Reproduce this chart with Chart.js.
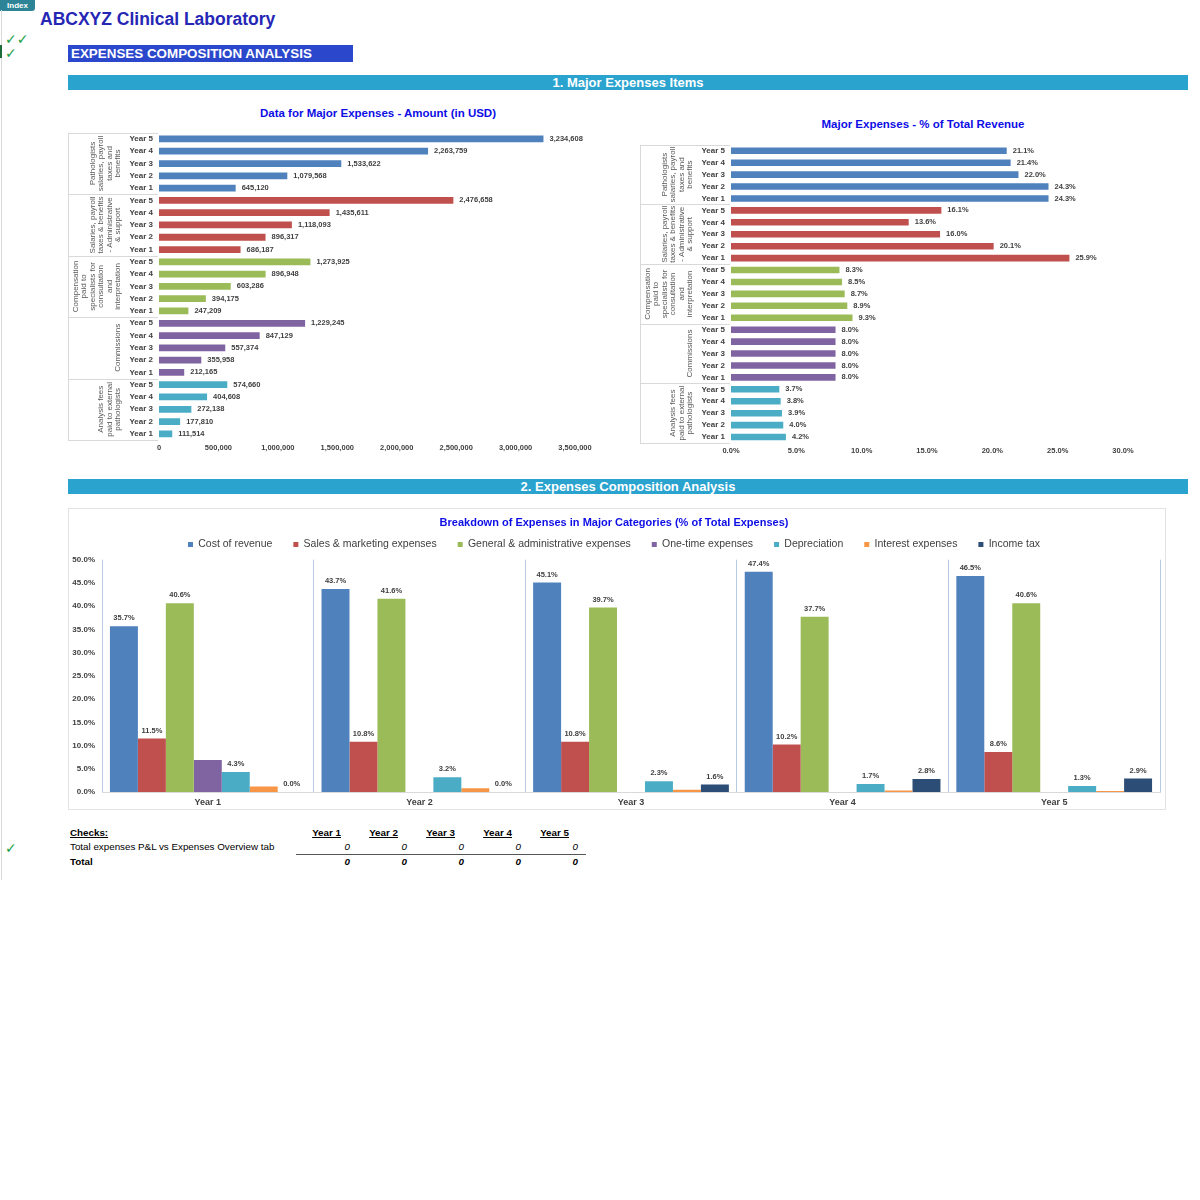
<!DOCTYPE html>
<html lang="en">
<head>
  <meta charset="UTF-8">
  <title>Expenses Composition Analysis</title>
  <style>
    body {
      margin: 0;
      padding: 0;
      background: #ffffff;
      font-family: 'Liberation Sans', Arial, sans-serif;
      width: 1200px;
      height: 1200px;
      position: relative;
      overflow: hidden;
    }
    .abs { position: absolute; }
    .index-tab {
      left: 0; top: 0; width: 35px; height: 11px;
      background: #2d8496; color: #fff;
      font-size: 8px; font-weight: bold; line-height: 11px; text-align: center;
      border-radius: 0 0 3px 0;
    }
    .left-rule { left: 1px; top: 10px; width: 1px; height: 870px; background: #d9d9d9; }
    .left-mark { left: 0; top: 45px; width: 2px; height: 13px; background: #1f6b3a; }
    .company {
      left: 40px; top: 9px; line-height: 20px;
      font-size: 17.5px; font-weight: bold; color: #2626b5;
    }
    .check { color: #22a047; font-family: 'DejaVu Sans', sans-serif; font-size: 14px; line-height: 14px; left: 5px; }
    .banner {
      left: 68px; top: 45px; width: 285px; height: 17px;
      background: #2b47cc; color: #fff; box-sizing: border-box; padding-left: 3px;
      font-size: 13.4px; font-weight: bold; line-height: 17px;
    }
    .section {
      left: 68px; width: 1120px; height: 15px;
      background: #2aa3cf; color: #fff;
      font-size: 13px; font-weight: bold; line-height: 15px; text-align: center;
    }
    .chart-title {
      width: 400px; line-height: 14px; text-align: center;
      color: #0d0de6; font-size: 11.5px; font-weight: bold;
    }
    .frame { left: 68px; top: 508px; width: 1098px; height: 302px; border: 1px solid #e3e3e3; box-sizing: border-box; }
    .cell { font-size: 9.8px; color: #000; line-height: 12px; }
    .num { text-align: right; width: 40px; font-style: italic; }
    .hdr { text-align: right; width: 50px; font-weight: bold; text-decoration: underline; }
  </style>
</head>
<body>
  <div class="abs index-tab">Index</div>
  <div class="abs left-rule"></div>
  <div class="abs left-mark"></div>
  <div class="abs company">ABCXYZ Clinical Laboratory</div>
  <div class="abs check" style="top:32px;">✓✓</div>
  <div class="abs check" style="top:46px;">✓</div>
  <div class="abs banner">EXPENSES COMPOSITION ANALYSIS</div>

  <div class="abs section" style="top:75px;">1. Major Expenses Items</div>
  <div class="abs chart-title" style="left:178px; top:106px;">Data for Major Expenses - Amount (in USD)</div>
  <div class="abs chart-title" style="left:723px; top:117px;">Major Expenses - % of Total Revenue</div>

  <div class="abs" style="left:68px; top:122px; width:532px; height:340px;"><canvas id="amountChart"></canvas></div>
  <div class="abs" style="left:640px; top:134px; width:520px; height:331px;"><canvas id="revenueChart"></canvas></div>

  <div class="abs section" style="top:479px;">2. Expenses Composition Analysis</div>
  <div class="abs frame"></div>
  <div class="abs" style="left:68px; top:508px; width:1098px; height:302px;"><canvas id="compositionChart"></canvas></div>

  <div class="abs cell" style="left:70px; top:827px; font-weight:bold; text-decoration:underline;">Checks:</div>
  <div class="abs check" style="top:841px;">✓</div>
  <div class="abs cell" style="left:70px; top:841px;">Total expenses P&amp;L vs Expenses Overview tab</div>
  <div class="abs cell" style="left:70px; top:856px; font-weight:bold;">Total</div>
  <div class="abs" style="left:296px; top:854px; width:290px; height:1px; background:#555;"></div>
  <div id="checks"></div>

  <script src="https://cdn.jsdelivr.net/npm/chart.js"></script>
  <script>
    // major expense items (rows go Year 5 -> Year 1 inside each item)
    const yearRows = ['Year 5', 'Year 4', 'Year 3', 'Year 2', 'Year 1'];
    const expenseItems = [
      ['Pathologists', 'salaries, payroll', 'taxes and', 'benefits'],
      ['Salaries, payroll', 'taxes & benefits', '- Administrative', '& support'],
      ['Compensation', 'paid to', 'specialists for', 'consultation', 'and', 'interpretation'],
      ['Commissions'],
      ['Analysis fees', 'paid to external', 'pathologists']
    ];
    const itemColors = ['#4F81BD', '#C0504D', '#9BBB59', '#8064A2', '#4BACC6'];

    const amountPathologists = [3234608, 2263759, 1533622, 1079568, 645120];
    const amountAdminSalaries = [2476658, 1435611, 1118093, 896317, 686187];
    const amountSpecialists = [1273925, 896948, 603286, 394175, 247209];
    const amountCommissions = [1229245, 847129, 557374, 355958, 212165];
    const amountAnalysisFees = [574660, 404608, 272138, 177810, 111514];

    const pctPathologists = [21.1, 21.4, 22.0, 24.3, 24.3];
    const pctAdminSalaries = [16.1, 13.6, 16.0, 20.1, 25.9];
    const pctSpecialists = [8.3, 8.5, 8.7, 8.9, 9.3];
    const pctCommissions = [8.0, 8.0, 8.0, 8.0, 8.0];
    const pctAnalysisFees = [3.7, 3.8, 3.9, 4.0, 4.2];

    // composition of total expenses
    const years = ['Year 1', 'Year 2', 'Year 3', 'Year 4', 'Year 5'];
    const costOfRevenue = [35.7, 43.7, 45.1, 47.4, 46.5];
    const salesMarketing = [11.5, 10.8, 10.8, 10.2, 8.6];
    const generalAdmin = [40.6, 41.6, 39.7, 37.7, 40.6];
    const oneTimeExpenses = [6.9, 0, 0, 0, 0];
    const depreciation = [4.3, 3.2, 2.3, 1.7, 1.3];
    const interestExpenses = [1.2, 0.8, 0.5, 0.3, 0.2];
    const incomeTax = [0.0, 0.0, 1.6, 2.8, 2.9];

    const checkValues = [0, 0, 0, 0, 0];
    const checkTotals = [0, 0, 0, 0, 0];

    Chart.defaults.font.family = "'Liberation Sans', Arial, sans-serif";
    Chart.defaults.color = '#404040';

    const fmtAmount = v => v === 0 ? '0' : v.toLocaleString('en-US');
    const fmtPct = v => v.toFixed(1) + '%';

    // draws the value next to / above each bar
    function valueLabels(format, horizontal, skip) {
      return {
        id: 'valueLabels',
        afterDatasetsDraw(chart) {
          const ctx = chart.ctx;
          ctx.save();
          ctx.font = 'bold 7.5px "Liberation Sans", Arial';
          ctx.fillStyle = '#404040';
          chart.data.datasets.forEach((ds, di) => {
            if (skip && skip.includes(di)) return;
            chart.getDatasetMeta(di).data.forEach((bar, i) => {
              const txt = format(ds.data[i]);
              if (horizontal) {
                ctx.textAlign = 'left';
                ctx.textBaseline = 'middle';
                ctx.fillText(txt, bar.x + 6, bar.y);
              } else {
                ctx.textAlign = 'center';
                ctx.textBaseline = 'middle';
                ctx.fillText(txt, bar.x, bar.y - 8);
              }
            });
          });
          ctx.restore();
        }
      };
    }

    // second level of the category axis: item names + separators
    const groupAxis = {
      id: 'groupAxis',
      afterDraw(chart) {
        const {ctx, chartArea} = chart;
        const y = chart.scales.y;
        const half = (y.getPixelForValue(1) - y.getPixelForValue(0)) / 2;
        const n = expenseItems.length;
        ctx.save();
        ctx.strokeStyle = '#d9d9d9';
        ctx.lineWidth = 1;
        const top = y.getPixelForValue(0) - half;
        const bottom = y.getPixelForValue(n * 5 - 1) + half;
        for (let g = 0; g <= n; g++) {
          const py = Math.round(g < n ? y.getPixelForValue(g * 5) - half : bottom) + 0.5;
          ctx.beginPath();
          ctx.moveTo(0, py);
          ctx.lineTo(chartArea.left - 1, py);
          ctx.stroke();
        }
        ctx.beginPath();
        ctx.moveTo(0.5, top);
        ctx.lineTo(0.5, bottom);
        ctx.stroke();

        ctx.fillStyle = '#595959';
        ctx.font = '8px "Liberation Sans", Arial';
        ctx.textAlign = 'center';
        ctx.textBaseline = 'middle';
        expenseItems.forEach((lines, g) => {
          const cy = (y.getPixelForValue(g * 5) + y.getPixelForValue(g * 5 + 4)) / 2;
          lines.forEach((txt, i) => {
            const cx = chartArea.left - 41 - (lines.length - 1 - i) * 8.5;
            ctx.save();
            ctx.translate(cx, cy);
            ctx.rotate(-Math.PI / 2);
            ctx.fillText(txt, 0, 0);
            ctx.restore();
          });
        });
        ctx.restore();
      }
    };

    const rowLabels = expenseItems.flatMap(() => yearRows);
    const rowColors = itemColors.flatMap(c => Array(5).fill(c));

    function itemBarChart(id, values, xMax, xStep, tickFmt, labelFmt, padRight) {
      return new Chart(document.getElementById(id), {
        type: 'bar',
        data: {
          labels: rowLabels,
          datasets: [{
            data: values,
            backgroundColor: rowColors,
            barPercentage: 0.55,
            categoryPercentage: 1
          }]
        },
        options: {
          indexAxis: 'y',
          responsive: true,
          maintainAspectRatio: false,
          animation: false,
          layout: { padding: { top: 4, right: padRight, left: 0, bottom: 0 } },
          plugins: { legend: { display: false }, tooltip: { enabled: false } },
          scales: {
            y: {
              afterFit: s => { s.width = 91; },
              grid: { display: false, drawTicks: false },
              border: { display: false },
              ticks: { font: { size: 8, weight: 'bold' }, color: '#404040', padding: 6, autoSkip: false }
            },
            x: {
              min: 0,
              max: xMax,
              afterFit: s => { s.height = 22; },
              grid: { display: false, drawTicks: false },
              border: { display: false },
              ticks: { stepSize: xStep, font: { size: 7.5, weight: 'bold' }, color: '#404040', padding: 3, callback: tickFmt }
            }
          }
        },
        plugins: [groupAxis, valueLabels(labelFmt, true)]
      });
    }

    itemBarChart('amountChart',
      [...amountPathologists, ...amountAdminSalaries, ...amountSpecialists, ...amountCommissions, ...amountAnalysisFees],
      3500000, 500000, v => fmtAmount(v), fmtAmount, 25);

    itemBarChart('revenueChart',
      [...pctPathologists, ...pctAdminSalaries, ...pctSpecialists, ...pctCommissions, ...pctAnalysisFees],
      30, 5, v => fmtPct(v), fmtPct, 37);

    new Chart(document.getElementById('compositionChart'), {
      type: 'bar',
      data: {
        labels: years,
        datasets: [
          { label: 'Cost of revenue', data: costOfRevenue, backgroundColor: '#4F81BD' },
          { label: 'Sales & marketing expenses', data: salesMarketing, backgroundColor: '#C0504D' },
          { label: 'General & administrative expenses', data: generalAdmin, backgroundColor: '#9BBB59' },
          { label: 'One-time expenses', data: oneTimeExpenses, backgroundColor: '#8064A2' },
          { label: 'Depreciation', data: depreciation, backgroundColor: '#4BACC6' },
          { label: 'Interest expenses', data: interestExpenses, backgroundColor: '#F79646' },
          { label: 'Income tax', data: incomeTax, backgroundColor: '#2C4D75' }
        ]
      },
      options: {
        responsive: true,
        maintainAspectRatio: false,
        animation: false,
        datasets: { bar: { barPercentage: 1, categoryPercentage: 0.925 } },
        layout: { padding: { top: 0, right: 6, left: 0, bottom: 0 } },
        plugins: {
          tooltip: { enabled: false },
          title: {
            display: true,
            text: 'Breakdown of Expenses in Major Categories (% of Total Expenses)',
            color: '#0d0de6',
            font: { size: 11, weight: 'bold' },
            padding: { top: 8, bottom: -11 }
          },
          legend: {
            labels: { boxWidth: 5, boxHeight: 5, padding: 21, font: { size: 10.5 }, color: '#404040' }
          }
        },
        scales: {
          x: {
            afterFit: s => { s.height = 18; },
            grid: { display: true, offset: true, drawTicks: false, color: '#b9cbe4' },
            border: { color: '#d9d9d9' },
            ticks: { font: { size: 9, weight: 'bold' }, color: '#404040', padding: 5 }
          },
          y: {
            min: 0,
            max: 50,
            afterFit: s => { s.width = 34; },
            grid: { display: false, drawTicks: false },
            border: { display: false },
            ticks: { stepSize: 5, font: { size: 8, weight: 'bold' }, color: '#404040', padding: 7, callback: v => fmtPct(v) }
          }
        }
      },
      plugins: [valueLabels(fmtPct, false, [3, 5])]
    });

    // checks table
    const checks = document.getElementById('checks');
    years.forEach((yr, i) => {
      const right = 341 + i * 57;
      checks.insertAdjacentHTML('beforeend',
        `<div class="abs cell hdr" style="left:${right - 50}px; top:827px;">${yr}</div>` +
        `<div class="abs cell num" style="left:${right + 9 - 40}px; top:841px;">${checkValues[i]}</div>` +
        `<div class="abs cell num" style="left:${right + 9 - 40}px; top:856px; font-weight:bold;">${checkTotals[i]}</div>`);
    });
  </script>
</body>
</html>
